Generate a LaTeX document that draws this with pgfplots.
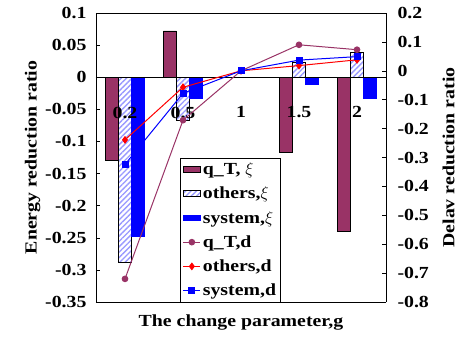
\documentclass[border=0pt]{standalone}
\usepackage{fontspec}
\setmainfont{Liberation Serif}[FakeStretch=1.17]
\usepackage{pgfplots}
\pgfplotsset{compat=1.18}
\usetikzlibrary{patterns.meta}
\definecolor{qt}{HTML}{993366}
\definecolor{hatch}{HTML}{9999FF}
\newcommand{\cf}{\bfseries\fontsize{17}{19}\selectfont}
\pgfplotsset{
  common/.style={
    scale only axis, width=290bp, height=289bp,
    xmin=-0.5, xmax=4.5,
    tick align=inside,
    major tick length=4bp,
    tick style={black, line width=0.5bp},
    axis line style={black, line width=0.8bp, -},
    every tick label/.append style={font=\cf},
    label style={font=\cf},
    /pgf/number format/assume math mode=true,
    scaled y ticks=false,
  },
  hatchbar/.style={draw=black, line width=0.5bp, fill=white,
    postaction={pattern={Lines[angle=45,distance=3.8bp,line width=1.4bp]}, pattern color=hatch}},
}
\begin{document}
\begin{tikzpicture}
\begin{axis}[common,
  axis on top,
  ymin=-0.35, ymax=0.1,
  axis x line*=middle, axis y line*=left,
  hide obscured x ticks=false, hide obscured y ticks=false,
  xtick={0,1,2,3,4}, xticklabels={0.2,0.5,1,1.5,2},
  major x tick style={draw=none},
  xticklabel style={yshift=-22bp},
  extra x ticks={0.5,1.5,2.5,3.5}, extra x tick labels={},
  extra x tick style={major tick length=6bp, tick align=inside},
  ytick={-0.35,-0.3,-0.25,-0.2,-0.15,-0.1,-0.05,0,0.05,0.1},
  yticklabel style={/pgf/number format/fixed, /pgf/number format/precision=2, xshift=-6bp},
  ylabel={Energy reduction ratio},
  ylabel style={yshift=-2bp},
  ybar=0pt, bar width=13bp,
]
\addplot[fill=qt, draw=black, line width=0.5bp] coordinates {(0,-0.130) (1,0.072) (2,0) (3,-0.117) (4,-0.240)};
\addplot[hatchbar] coordinates {(0,-0.288) (1,-0.067) (2,0) (3,0.024) (4,0.039)};
\addplot[fill=blue, draw=blue, line width=0.5bp] coordinates {(0,-0.248) (1,-0.033) (2,0) (3,-0.0106) (4,-0.032)};
\end{axis}
\begin{axis}[common,
  ymin=-0.8, ymax=0.2,
  axis x line*=box, axis y line*=right,
  xtick=\empty,
  ytick={-0.8,-0.7,-0.6,-0.5,-0.4,-0.3,-0.2,-0.1,0,0.1,0.2},
  yticklabel style={/pgf/number format/fixed, /pgf/number format/precision=1, xshift=8bp},
  xlabel={The change parameter,g},
  xlabel style={yshift=-9bp},
  ylabel={Delav reduction ratio},
  ylabel style={yshift=-7bp},
  legend cell align=left,
  legend style={at={(0.29,0)}, anchor=south west, draw=black, line width=0.5bp,
    font=\cf, row sep=7bp, inner sep=2.5bp},
]
\addlegendimage{area legend, fill=qt, draw=black}
\addlegendentry{q\_T, $\xi$}
\addlegendimage{area legend, hatchbar}
\addlegendentry{others,$\xi$}
\addlegendimage{area legend, fill=blue, draw=blue}
\addlegendentry{system,$\xi$}
\addplot[qt, line width=1bp, mark=*, mark size=2.8bp] coordinates {(0,-0.72) (1,-0.171) (2,0) (3,0.090) (4,0.073)};
\addlegendentry{q\_T,d}
\addplot[red, line width=1bp, mark=diamond*, mark size=3.2bp] coordinates {(0,-0.239) (1,-0.057) (2,0) (3,0.018) (4,0.038)};
\addlegendentry{others,d}
\addplot[blue, line width=1bp, mark=square*, mark size=3bp] coordinates {(0,-0.324) (1,-0.078) (2,0) (3,0.037) (4,0.049)};
\addlegendentry{system,d}
\coordinate (bl) at (rel axis cs:0,0);
\coordinate (tr) at (rel axis cs:1,1);
\end{axis}
\pgfresetboundingbox
\path ([shift={(-96bp,-37bp)}]bl) rectangle ([shift={(73bp,13bp)}]tr);
\end{tikzpicture}
\end{document}
